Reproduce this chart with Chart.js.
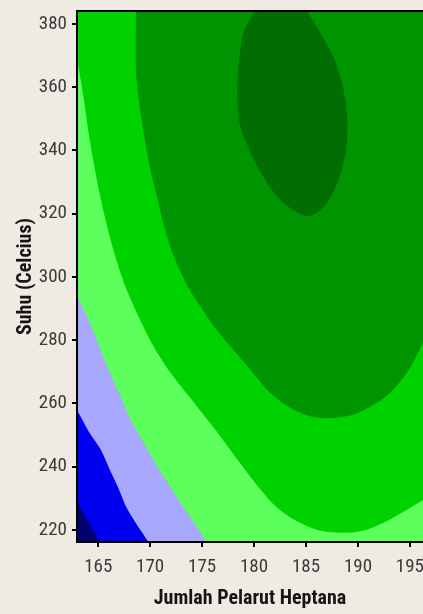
<!DOCTYPE html>
<html><head><meta charset="utf-8">
<script src="https://cdn.jsdelivr.net/npm/chart.js@4.4.1/dist/chart.umd.min.js"></script>
<style>
html,body{margin:0;padding:0;background:#EFEBE2;overflow:hidden;}
#wrap{width:423px;height:614px;position:relative;}
</style></head><body>
<div id="wrap"><canvas id="c"></canvas></div>
<script>
// ---- axis ticks and ranges ----
const xTicks = [165, 170, 175, 180, 185, 190, 195];
const yTicks = [220, 240, 260, 280, 300, 320, 340, 360, 380];
const xRange = [162.96, 196.26];
const yRange = [216.2, 384.1];
const xTitle = 'Jumlah Pelarut Heptana';
const yTitle = 'Suhu (Celcius)';

// ---- contour level colours (lowest to highest) ----
const levelColors = ['#000070', '#0000F0', '#A8A8FF', '#5CFF5C', '#00D200', '#009400', '#006E00'];

// ---- contour boundaries: [Jumlah, Suhu] ----
const edgeNavyBlue = [[162.57,231.4],[163.05,228.5],[164.06,222.5],[165.07,216.5],[165.26,214.9]];
const edgeBlueLavender = [[162.5,259.0],[163.05,257.3],[164.11,251.0],[165.26,245.3],[166.22,238.3],[166.89,233.6],[167.85,226.3],[169.77,216.5],[170.0,215.3]];
const edgeLavenderLight = [[162.5,295.5],[163.05,293.4],[164.59,282.3],[165.74,272.8],[166.99,263.3],[168.14,254.8],[169.77,245.3],[171.31,236.8],[172.94,228.5],[174.86,219.1],[175.34,216.5],[175.6,215.2]];
const edgeLightGreen = [[162.7,373.5],[162.96,369.25],[163.63,355.97],[164.11,344.92],[164.59,335.65],[165.16,325.9],[165.83,316.4],[166.6,306.96],[167.56,297.5],[168.81,288.0],[170.25,278.5],[171.98,269.6],[174.09,260.8],[176.3,251.6],[178.5,241.8],[180.42,233.6],[182.05,227.6],[183.88,223.2],[186.09,220.0],[188.29,219.1],[190.4,219.7],[192.42,222.2],[194.34,225.7],[196.26,229.5],[196.93,231.1]];
const edgeGreenDark = [[168.52,386.0],[168.62,383.5],[168.62,366.4],[168.9,356.0],[169.39,345.5],[169.96,334.8],[170.73,324.3],[171.31,316.4],[171.98,309.2],[172.74,302.8],[173.7,296.5],[174.86,290.5],[176.1,284.5],[177.74,277.9],[179.66,270.6],[181.58,263.3],[183.5,258.6],[185.7,255.7],[187.62,255.4],[189.73,256.7],[191.65,259.8],[193.38,264.3],[195.01,271.2],[196.26,279.1],[196.93,283.2]];
const edgeDarkDeepest = [[180.42,386.6],[179.94,383.5],[178.98,377.2],[178.5,366.4],[178.4,356.0],[178.69,347.4],[179.65,339.5],[180.9,331.6],[182.53,324.3],[184.26,320.2],[185.41,319.3],[187.04,323.4],[188.19,331.3],[188.86,340.2],[188.96,350.6],[188.48,361.3],[187.62,369.6],[186.37,377.2],[185.22,383.5],[184.64,386.6]];

// frame used only to close the filled regions outside the plot
const FX = [150, 210], FY = [200, 400];

function pts(list) { return list.map(p => ({x: p[0], y: p[1]})); }
function regionLeftBottom(edge) {
  const first = edge[0];
  return pts(edge.concat([[FX[1], FY[0]], [FX[1], FY[1]], [FX[0], FY[1]], [FX[0], first[1]]]));
}
function regionLeftRight(edge) {
  const first = edge[0], last = edge[edge.length - 1];
  return pts(edge.concat([[FX[1], last[1]], [FX[1], FY[1]], [FX[0], FY[1]], [FX[0], first[1]]]));
}
function regionTopRight(edge) {
  const last = edge[edge.length - 1];
  return pts(edge.concat([[FX[1], last[1]], [FX[1], FY[1]]]));
}
const base = pts([[FX[0], FY[0]], [FX[1], FY[0]], [FX[1], FY[1]], [FX[0], FY[1]]]);

const regions = [
  pts(edgeDarkDeepest),
  regionTopRight(edgeGreenDark),
  regionLeftRight(edgeLightGreen),
  regionLeftBottom(edgeLavenderLight),
  regionLeftBottom(edgeBlueLavender),
  regionLeftBottom(edgeNavyBlue),
  base
];
const regionColors = [levelColors[6], levelColors[5], levelColors[4], levelColors[3], levelColors[2], levelColors[1], levelColors[0]];

const FONT = '"Roboto Condensed", "DejaVu Sans Condensed", "Liberation Sans", sans-serif';

const datasets = regions.map((r, i) => ({
  data: r,
  fill: 'shape',
  backgroundColor: regionColors[i],
  borderColor: 'rgba(0,0,0,0)',
  borderWidth: 0,
  pointRadius: 0,
  tension: 0.3,
  capBezierPoints: false
}));

const axisBorder = {display: true, color: '#000', width: 2, z: 2};

new Chart(document.getElementById('c'), {
  type: 'line',
  data: {datasets},
  options: {
    responsive: true,
    maintainAspectRatio: false,
    animation: false,
    events: [],
    layout: {padding: {top: 11, right: 0, left: 0, bottom: 0}},
    plugins: {legend: {display: false}, tooltip: {enabled: false}},
    scales: {
      x: {
        type: 'linear', position: 'bottom', min: xRange[0], max: xRange[1],
        afterBuildTicks: s => { s.ticks = xTicks.map(v => ({value: v})); },
        afterFit: s => { s.height = 72; s.paddingLeft = 0; s.paddingRight = 0; },
        ticks: {includeBounds: false, autoSkip: false, maxRotation: 0, padding: 9, color: '#3a3a3a',
          font: {family: FONT, size: 19}},
        grid: {display: true, drawOnChartArea: false, drawTicks: true, tickLength: 5, color: '#000', lineWidth: 2, z: 1},
        border: axisBorder,
        title: {display: true, text: xTitle, color: '#151515', padding: {top: 0, bottom: 3},
          font: {family: FONT, size: 20, weight: 'bold'}}
      },
      xTop: {
        type: 'linear', position: 'top', min: xRange[0], max: xRange[1],
        afterFit: s => { s.height = 0; s.paddingLeft = 0; s.paddingRight = 0; },
        ticks: {display: false},
        grid: {display: false},
        border: axisBorder
      },
      y: {
        type: 'linear', position: 'left', min: yRange[0], max: yRange[1],
        afterBuildTicks: s => { s.ticks = yTicks.map(v => ({value: v})); },
        afterFit: s => { s.width = 77; s.paddingTop = 0; s.paddingBottom = 0; },
        ticks: {includeBounds: false, autoSkip: false, padding: 5, color: '#3a3a3a',
          font: {family: FONT, size: 19}},
        grid: {display: true, drawOnChartArea: false, drawTicks: true, tickLength: 5, color: '#000', lineWidth: 2, z: 1},
        border: axisBorder,
        title: {display: true, text: yTitle, color: '#151515', padding: {top: 14, bottom: 0},
          font: {family: FONT, size: 20, weight: 'bold'}}
      }
    }
  }
});
</script>
</body></html>
